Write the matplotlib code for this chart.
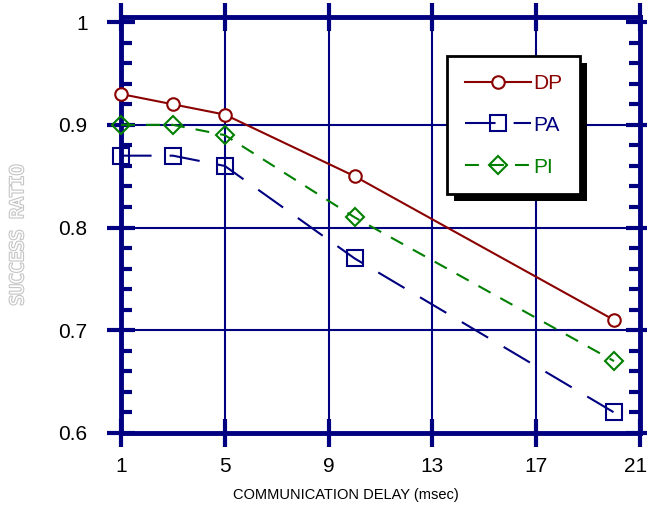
import matplotlib
matplotlib.use("Agg")
import matplotlib.pyplot as plt
import matplotlib.patheffects as pe
from matplotlib.ticker import MultipleLocator
from matplotlib.patches import Rectangle
from matplotlib.transforms import IdentityTransform, ScaledTranslation

plt.rcParams['font.family'] = ['Liberation Sans', 'DejaVu Sans']
plt.rcParams['lines.scale_dashes'] = False

delay = [1, 3, 5, 10, 20]
dp = [0.93, 0.92, 0.91, 0.85, 0.71]
pa = [0.87, 0.87, 0.86, 0.77, 0.62]
pi = [0.90, 0.90, 0.89, 0.81, 0.67]
xticks = [1, 5, 9, 13, 17, 21]
yticks = [0.6, 0.7, 0.8, 0.9, 1.0]
yticklabels = ['0.6', '0.7', '0.8', '0.9', '1']

navy = '#000080'
red = '#8B0000'
green = '#008000'

fig = plt.figure(figsize=(6.47, 5.08), dpi=100)
ax = fig.add_axes([121/647, 1-433/508, (640-121)/647, (433-17)/508])
ax.set_xlim(1, 21)
ax.set_ylim(0.6, 1.005)

for x in xticks[1:-1]:
    ax.axvline(x, color=navy, lw=1.5, zorder=1)
for y in yticks[1:-1]:
    ax.axhline(y, color=navy, lw=1.5, zorder=1)

ax.plot(delay, dp, color=red, lw=1.5, marker='o', ms=9, mfc='white', mec=red, mew=1.5,
        label='DP', clip_on=False, zorder=3)
ax.plot(delay, pa, color=navy, lw=1.5, marker='s', ms=11, mfc='none', mec=navy, mew=1.5,
        dashes=(22, 13), label='PA', clip_on=False, zorder=3)
ax.plot(delay, pi, color=green, lw=1.5, marker='D', ms=9, mfc='none', mec=green, mew=1.5,
        dashes=(10, 8), label='PI', clip_on=False, zorder=3)

for s in ax.spines.values():
    s.set_color(navy)
    s.set_linewidth(3.5)

ax.set_xticks(xticks)
ax.set_xticklabels([str(x) for x in xticks])
ax.set_yticks(yticks)
ax.set_yticklabels(yticklabels)
ax.yaxis.set_minor_locator(MultipleLocator(0.02))
ax.tick_params(axis='both', which='major', direction='inout', length=20, width=3,
               color=navy, labelsize=15, top=True, right=True, pad=4)
ax.tick_params(axis='x', which='major', pad=7)
ax.tick_params(axis='y', which='major', pad=14)
ax.tick_params(axis='y', which='minor', direction='in', length=8, width=3,
               color=navy, left=True, right=True)

fig.text(346/647, 1-495/508, 'COMMUNICATION DELAY (msec)', fontsize=10.5,
         ha='center', va='center')
fig.text(18/647, 1-235/508, 'SUCCESS RATIO', rotation=90, color='white',
         fontsize=13, family='DejaVu Sans Mono',
         ha='center', va='center',
         path_effects=[pe.Stroke(linewidth=1.6, foreground='#c4c4c4'), pe.Normal()])

leg = ax.legend(loc='upper left', bbox_to_anchor=(0.628, 0.906), fontsize=15,
                handlelength=3.2, handletextpad=0.1, labelspacing=1.1,
                borderpad=0.85, borderaxespad=0, frameon=True, fancybox=False,
                labelcolor='linecolor')
fr = leg.get_frame()
fr.set_edgecolor('black')
fr.set_linewidth(2)
fr.set_alpha(1)
leg.set_zorder(6)

fig.canvas.draw()
last = ax.get_xticklabels()[-1]
last.set_transform(last.get_transform() + ScaledTranslation(-4/100, 0, fig.dpi_scale_trans))
bb = leg.get_window_extent()
shadow = Rectangle((bb.x0 + 7, bb.y0 - 7), bb.width, bb.height, transform=IdentityTransform(),
                   facecolor='black', edgecolor='none', zorder=5.5)
ax.add_artist(shadow)

fig.savefig('out.png', dpi=100)
